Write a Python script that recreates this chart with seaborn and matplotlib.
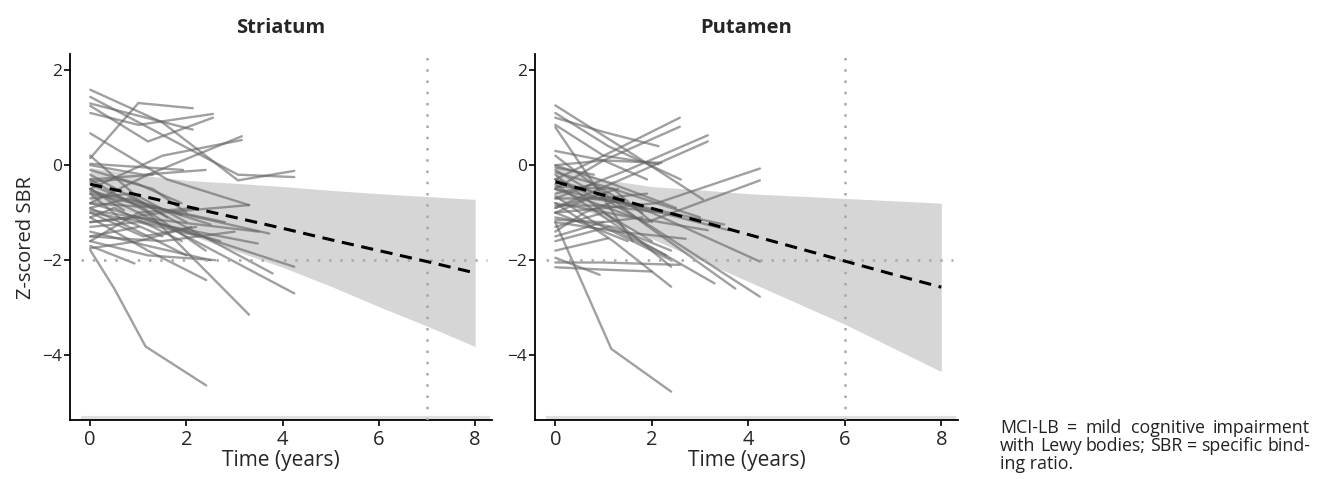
import numpy as np
import pandas as pd
import matplotlib
matplotlib.use("Agg")
import matplotlib.pyplot as plt
import seaborn as sns

# Individual trajectories (years, z-scored SBR)
striatum_times = [
    [0, 1.0, 2.13], [0, 1.5, 3.07, 4.24], [0, 1.0, 2.55], [0, 1.2, 2.55],
    [0, 2.13], [0, 3.07, 4.24], [0, 1.6, 3.3], [0, 1.2, 3.15],
    [0, 1.5, 3.15], [0, 1.1, 2.4], [0, 0.5, 1.15, 2.41], [0, 1.2, 3.3],
    [0, 2.0, 4.24], [0, 2.0, 4.24], [0, 1.8, 3.72], [0, 1.7, 3.48],
    [0, 1.5, 3.3], [0, 1.2, 2.41], [0, 0.92], [0, 1.8, 3.79],
    [0, 1.0, 2.0], [0, 1.2, 2.6], [0, 1.0], [0, 1.1, 2.4],
    [0, 0.8, 1.6], [0, 1.3], [0, 1.0, 2.3], [0, 0.9, 2.0],
    [0, 1.1, 2.2], [0, 0.7], [0, 1.0, 2.1], [0, 1.4, 2.8],
    [0, 1.0, 1.9], [0, 1.2, 2.5], [0, 0.6, 1.5], [0, 1.0, 2.7],
    [0, 1.93], [0, 1.5, 3.0], [0, 0.8, 1.9], [0, 1.0, 2.2],
    [0, 0.6, 1.3, 2.0], [0, 0.5, 1.9], [0, 1.0, 3.5], [0, 1.1, 2.5],
]
striatum_values = [
    [0.15, 1.31, 1.2], [1.59, 0.9, -0.32, -0.12], [1.1, 0.85, 1.08], [1.25, 0.5, 1.0],
    [1.3, 0.75], [1.44, -0.2, -0.25], [0.67, -0.3, -0.84], [-0.8, -0.2, 0.61],
    [-0.5, 0.2, 0.53], [0.0, -0.2, -0.1], [-1.79, -2.6, -3.82, -4.64], [-0.3, -1.0, -3.15],
    [-0.5, -1.5, -2.7], [-0.8, -1.4, -2.14], [-0.6, -1.0, -1.44], [-1.0, -1.3, -1.65],
    [-1.2, -1.0, -0.84], [-1.1, -1.8, -2.42], [-1.7, -2.07], [-0.2, -1.2, -2.28],
    [-0.9, -1.4, -1.9], [-1.6, -1.9, -2.0], [-1.5, -1.3], [-0.4, -0.9, -1.8],
    [-0.7, -0.6, -1.1], [-0.3, -0.2], [-1.3, -1.2, -1.5], [0.2, -0.6, -1.2],
    [-1.0, -1.5, -1.3], [-0.5, -0.95], [-1.75, -1.6, -1.3], [-0.8, -0.9, -1.2],
    [-0.1, -0.4, -0.8], [-1.4, -1.7, -2.0], [-0.6, -1.1, -1.5], [-1.2, -1.1, -1.6],
    [0.03, -0.1], [-1.5, -1.6, -1.4], [-0.9, -0.7, -1.05], [-1.6, -1.0, -0.9],
    [-0.35, -0.3, -0.5, -1.0], [-1.1, -0.9, -1.6], [-0.95, -1.1, -1.4], [-0.55, -0.8, -1.25],
]

putamen_times = [
    [0, 1.5, 3.06], [0, 1.2, 2.58], [0, 1.0, 2.58], [0, 1.0, 2.14],
    [0, 1.0, 2.14], [0, 1.5, 3.16], [0, 1.6, 3.16], [0, 2.1, 4.24],
    [0, 1.9, 4.24], [0, 2.0, 4.24], [0, 2.0, 4.24], [0, 1.8, 3.73],
    [0, 1.6, 3.3], [0, 1.2, 2.4], [0, 1.16, 2.4], [0, 1.4, 2.4],
    [0, 1.0, 2.58], [0, 1.0, 2.0], [0, 0.92], [0, 1.09],
    [0, 1.8, 3.6], [0, 1.6, 3.16], [0, 1.0, 2.0], [0, 0.8, 1.8],
    [0, 1.2, 2.4], [0, 1.0, 2.2], [0, 0.8], [0, 1.2, 2.5],
    [0, 0.7, 1.5], [0, 1.1, 2.3], [0, 1.0, 3.5], [0, 0.9, 1.9],
    [0, 1.3, 2.7], [0, 1.0, 1.9], [0, 0.6, 1.4], [0, 1.0, 2.2],
    [0, 1.2, 2.0], [0, 0.8, 2.4], [0, 1.5], [0, 1.2, 3.0],
    [0, 1.0], [0, 1.1, 2.6], [0, 1.3], [0, 1.0, 1.8],
    [0, 1.6],
]
putamen_values = [
    [1.26, 0.3, -0.72], [-0.3, 0.3, 1.0], [-0.5, 0.1, 0.81], [1.0, 0.7, 0.4],
    [0.85, 0.2, 0.02], [-0.7, -0.1, 0.63], [-0.9, -0.2, 0.5], [-1.0, -0.8, -0.07],
    [-0.5, -1.2, -0.32], [-0.1, -1.3, -2.77], [-0.3, -1.0, -2.03], [0.2, -1.2, -2.6],
    [-0.4, -1.5, -2.49], [-0.8, -1.6, -2.56], [-1.2, -3.87, -4.77], [-0.2, -1.3, -2.14],
    [-2.05, -2.05, -2.1], [-2.15, -2.2, -2.24], [-1.95, -2.31], [-1.8, -1.54],
    [-0.5, -0.9, -1.37], [-0.8, -1.1, -1.37], [-1.3, -1.0, -1.6], [-0.6, -0.4, -1.0],
    [-1.1, -1.3, -1.8], [-0.85, -0.85, -1.0], [-0.05, -0.2], [0.0, -0.4, -0.9],
    [-1.0, -0.7, -0.8], [-1.6, -1.3, -1.9], [-0.7, -0.7, -1.25], [-0.3, -0.7, -0.6],
    [-1.2, -1.4, -1.55], [0.3, 0.1, -0.3], [-1.4, -1.0, -0.7], [0.0, 0.1, 0.05],
    [-0.15, -0.5, -1.2], [-0.65, -1.2, -2.0], [-1.0, -1.6], [-0.45, -0.5, -1.1],
    [-1.15, -1.2], [1.1, 0.4, -0.3], [-0.9, -0.5], [-1.5, -1.2, -1.1],
    [0.8, -1.6],
]

# Model fit: mean trajectory and confidence band
fit_time = [0, 1, 2, 3, 4, 5, 6, 7, 8]
striatum_mean = [-0.4, -0.63, -0.87, -1.1, -1.33, -1.57, -1.8, -2.03, -2.27]
striatum_upper = [-0.05, -0.2, -0.32, -0.38, -0.45, -0.53, -0.6, -0.66, -0.72]
striatum_lower = [-0.75, -1.05, -1.45, -1.8, -2.15, -2.55, -2.98, -3.39, -3.82]
putamen_mean = [-0.35, -0.63, -0.91, -1.18, -1.46, -1.74, -2.02, -2.3, -2.57]
putamen_upper = [0.0, -0.3, -0.45, -0.52, -0.6, -0.65, -0.7, -0.75, -0.8]
putamen_lower = [-0.7, -1.1, -1.55, -2.0, -2.45, -2.9, -3.35, -3.85, -4.35]

cutoff_z = -2
striatum_cross = 7
putamen_cross = 6

footnote = ["MCI-LB = mild cognitive impairment",
            "with Lewy bodies; SBR = specific bind-",
            "ing ratio."]


def to_long(times, values):
    rows = []
    for i, (t, v) in enumerate(zip(times, values)):
        for tt, vv in zip(t, v):
            rows.append({"subject": i, "time": tt, "z": vv})
    return pd.DataFrame(rows)


sns.set_theme(style="ticks")
plt.rcParams["font.family"] = ["Open Sans", "DejaVu Sans"]

W, H = 1329, 479
fig = plt.figure(figsize=(W / 100, H / 100), dpi=100)
ax1 = fig.add_axes([0.0527, 0.123, 0.3175, 0.764])
ax2 = fig.add_axes([0.4026, 0.123, 0.3184, 0.764])

panels = [
    (ax1, "Striatum", striatum_times, striatum_values, striatum_mean,
     striatum_upper, striatum_lower, striatum_cross),
    (ax2, "Putamen", putamen_times, putamen_values, putamen_mean,
     putamen_upper, putamen_lower, putamen_cross),
]

for ax, title, times, values, mean, upper, lower, cross in panels:
    ax.fill_between(fit_time, lower, upper, color="#d6d6d6", lw=0, zorder=1)
    df = to_long(times, values)
    sns.lineplot(data=df, x="time", y="z", units="subject", estimator=None,
                 color="#666666", alpha=0.62, lw=1.7, ax=ax, zorder=2)
    fit = pd.DataFrame({"time": fit_time, "z": mean})
    sns.lineplot(data=fit, x="time", y="z", color="black", lw=2.2,
                 ax=ax, zorder=4)
    ax.lines[-1].set_dashes((4, 2.5))
    ax.hlines(cutoff_z, -0.2, 8.25, colors="#a8a8a8", lw=1.8,
              linestyles=(0, (1, 3.5)), zorder=3)
    ax.axvline(cross, color="#a8a8a8", lw=1.8, ls=(0, (1, 3.5)), zorder=3)
    ax.hlines(-5.33, -0.2, 8.3, colors="#e0e0e0", lw=3, zorder=1)

    ax.set_xlim(-0.42, 8.35)
    ax.set_ylim(-5.37, 2.34)
    ax.set_xticks([0, 2, 4, 6, 8])
    ax.set_yticks([-4, -2, 0, 2])
    ax.set_yticklabels(["\u22124", "\u22122", "0", "2"])
    ax.tick_params(length=4, width=1.2, color="black")
    ax.tick_params(axis="x", labelsize=14.5, pad=3)
    ax.tick_params(axis="y", labelsize=12.5, pad=2)
    for s in ["left", "bottom"]:
        ax.spines[s].set_linewidth(1.3)
        ax.spines[s].set_color("black")
    sns.despine(ax=ax)
    ax.set_title(title, fontsize=14.5, fontweight="bold", pad=15)
    ax.set_xlabel("Time (years)", fontsize=15, labelpad=0)
    ax.set_ylabel("")

ax1.set_ylabel("Z-scored SBR", fontsize=14.5, labelpad=4)

# justified footnote, placed word by word
renderer = fig.canvas.get_renderer()
x0, x1 = 1000, 1310
line_y = [428, 446, 464]
for i, line in enumerate(footnote):
    y = 1 - line_y[i] / H
    words = line.split()
    if i == len(footnote) - 1:
        fig.text(x0 / W, y, line, fontsize=12.8, color="#222222", va="center")
        continue
    texts = [fig.text(0, y, w, fontsize=12.8, color="#222222", va="center")
             for w in words]
    widths = [t.get_window_extent(renderer).width for t in texts]
    gap = max((x1 - x0 - sum(widths)) / (len(words) - 1), 3.5)
    pos = x0
    for t, w in zip(texts, widths):
        t.set_x(pos / W)
        pos += w + gap

fig.savefig("out.png", dpi=100)
